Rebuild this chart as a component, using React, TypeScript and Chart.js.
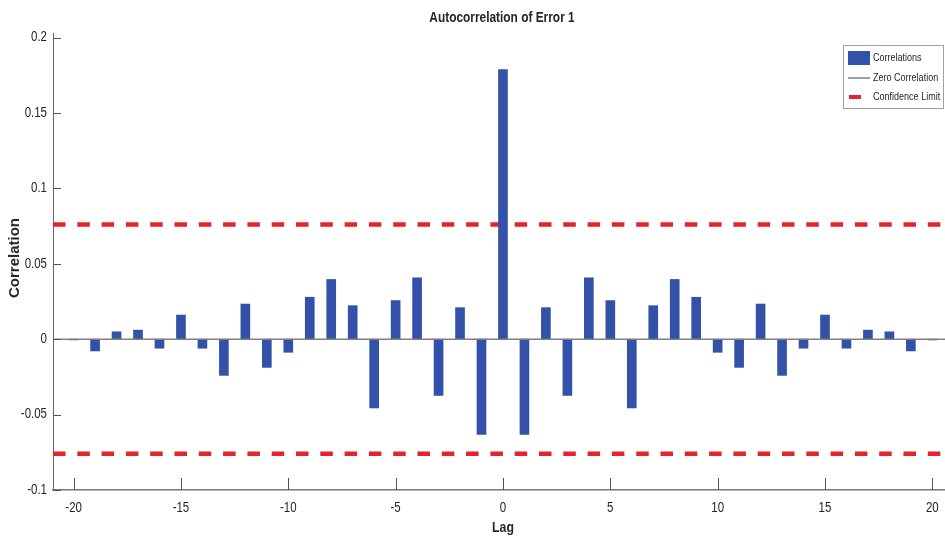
import React, { useEffect, useRef } from 'react';
import { Chart, registerables } from 'chart.js';

Chart.register(...registerables);

const lags = [
  -20, -19, -18, -17, -16, -15, -14, -13, -12, -11, -10, -9, -8, -7, -6, -5, -4, -3, -2, -1,
  0, 1, 2, 3, 4, 5, 6, 7, 8, 9, 10, 11, 12, 13, 14, 15, 16, 17, 18, 19, 20,
];
const correlations = [
  -0.0005, -0.0078, 0.0049, 0.006, -0.006, 0.016, -0.006, -0.024, 0.0233, -0.0187, -0.0087,
  0.0278, 0.0396, 0.0222, -0.0456, 0.0256, 0.0407, -0.0373, 0.0209, -0.0631,
  0.1788,
  -0.0631, 0.0209, -0.0373, 0.0407, 0.0256, -0.0456, 0.0222, 0.0396, 0.0278, -0.0087,
  -0.0187, 0.0233, -0.024, -0.006, 0.016, -0.006, 0.006, 0.0049, -0.0078, -0.0005,
];
const confidenceLimit = 0.076;
const xTicks = [-20, -15, -10, -5, 0, 5, 10, 15, 20];
const xTickLabels = ['-20', '-15', '-10', '-5', '0', '5', '10', '15', '20'];
const yTicks = [-0.1, -0.05, 0, 0.05, 0.1, 0.15, 0.2];
const yTickLabels = ['-0.1', '-0.05', '0', '0.05', '0.1', '0.15', '0.2'];
const xRange = [-20.96, 20.59];
const yRange = [-0.1, 0.203];
const legendLabels = ['Correlations', 'Zero Correlation', 'Confidence Limit'];
const titleText = 'Autocorrelation of Error 1';
const xTitle = 'Lag';
const yTitle = 'Correlation';

const FONT = "'Liberation Sans', Arial, sans-serif";
const NARROW_SCALE = 0.82;
const BLUE = '#3351A8';
const RED = '#E5232B';
const GRAY = '#808080';
const TEXT = '#262626';

function narrowText(
  ctx: CanvasRenderingContext2D,
  text: string,
  x: number,
  y: number,
  font: string,
  align: CanvasTextAlign,
) {
  ctx.save();
  ctx.font = font;
  ctx.textAlign = align;
  ctx.textBaseline = 'middle';
  ctx.translate(x, y);
  ctx.scale(NARROW_SCALE, 1);
  ctx.fillText(text, 0, 0);
  ctx.restore();
}

const decorPlugin = {
  id: 'decor',
  afterDraw(chart: any) {
    const { ctx, chartArea, scales } = chart;
    const xs = scales.x;
    const ys = scales.y;
    ctx.save();
    // inward ticks
    ctx.strokeStyle = '#555';
    ctx.lineWidth = 1;
    xTicks.forEach((v) => {
      const px = Math.round(xs.getPixelForValue(v)) + 0.5;
      ctx.beginPath();
      ctx.moveTo(px, chartArea.bottom);
      ctx.lineTo(px, chartArea.bottom - 12);
      ctx.stroke();
    });
    yTicks.forEach((v) => {
      const py = Math.round(ys.getPixelForValue(v)) + 0.5;
      ctx.beginPath();
      ctx.moveTo(chartArea.left, py);
      ctx.lineTo(chartArea.left + 8, py);
      ctx.stroke();
    });

    ctx.fillStyle = TEXT;
    // tick labels
    xTicks.forEach((v, i) => {
      narrowText(ctx, xTickLabels[i], xs.getPixelForValue(v), chartArea.bottom + 18, `14px ${FONT}`, 'center');
    });
    yTicks.forEach((v, i) => {
      narrowText(ctx, yTickLabels[i], chartArea.left - 6, ys.getPixelForValue(v), `14px ${FONT}`, 'right');
    });

    // title
    narrowText(ctx, titleText, 502, 18, `bold 14.5px ${FONT}`, 'center');
    // x title
    narrowText(ctx, xTitle, 503, 528, `bold 15px ${FONT}`, 'center');

    // y title
    ctx.save();
    ctx.translate(15, 258);
    ctx.rotate(-Math.PI / 2);
    ctx.font = `bold 15px ${FONT}`;
    ctx.textAlign = 'center';
    ctx.textBaseline = 'middle';
    ctx.fillText(yTitle, 0, 0);
    ctx.restore();

    // legend
    const lx = 843, ly = 45, lw = 100, lh = 63;
    ctx.fillStyle = '#fff';
    ctx.fillRect(lx, ly, lw, lh);
    ctx.strokeStyle = '#a0a0a0';
    ctx.lineWidth = 1;
    ctx.strokeRect(lx + 0.5, ly + 0.5, lw, lh);

    ctx.fillStyle = BLUE;
    ctx.fillRect(848, 51, 22, 14);

    ctx.strokeStyle = GRAY;
    ctx.lineWidth = 1.5;
    ctx.beginPath();
    ctx.moveTo(848, 78);
    ctx.lineTo(870, 78);
    ctx.stroke();

    ctx.fillStyle = RED;
    ctx.fillRect(849, 95, 12, 4);

    ctx.fillStyle = TEXT;
    narrowText(ctx, legendLabels[0], 873, 58, `11px ${FONT}`, 'left');
    narrowText(ctx, legendLabels[1], 873, 78, `11px ${FONT}`, 'left');
    narrowText(ctx, legendLabels[2], 873, 97, `11px ${FONT}`, 'left');
    ctx.restore();
  },
};

export default function App() {
  const canvasRef = useRef<HTMLCanvasElement | null>(null);

  useEffect(() => {
    const canvas = canvasRef.current;
    if (!canvas) return;
    const chart = new Chart(canvas, {
      type: 'bar',
      data: {
        datasets: [
          {
            type: 'line',
            label: 'Zero Correlation',
            data: xRange.map((x) => ({ x, y: 0 })),
            borderColor: GRAY,
            borderWidth: 1.5,
            pointRadius: 0,
            order: 0,
          } as any,
          {
            type: 'bar',
            label: 'Correlations',
            data: lags.map((l, i) => ({ x: l, y: correlations[i] })),
            backgroundColor: BLUE,
            barThickness: 9,
            order: 1,
          } as any,
          {
            type: 'line',
            label: 'Confidence Limit',
            data: xRange.map((x) => ({ x, y: confidenceLimit })),
            borderColor: RED,
            borderWidth: 4.5,
            borderDash: [12.5, 11.8],
            pointRadius: 0,
            order: 2,
          } as any,
          {
            type: 'line',
            label: 'Confidence Limit (lower)',
            data: xRange.map((x) => ({ x, y: -confidenceLimit })),
            borderColor: RED,
            borderWidth: 4.5,
            borderDash: [12.5, 11.8],
            pointRadius: 0,
            order: 2,
          } as any,
        ],
      },
      options: {
        responsive: false,
        animation: false,
        devicePixelRatio: 1,
        layout: { padding: { top: 33, left: 0, right: 0, bottom: 0 } },
        plugins: {
          legend: { display: false },
          tooltip: { enabled: false },
          title: { display: false },
        },
        scales: {
          x: {
            type: 'linear',
            offset: false,
            min: xRange[0],
            max: xRange[1],
            afterBuildTicks: (s: any) => {
              s.ticks = xTicks.map((v) => ({ value: v }));
            },
            afterFit: (s: any) => {
              s.height = 52;
            },
            grid: { display: false },
            border: { display: true, color: '#777', width: 1.5 },
            ticks: { display: false },
          },
          y: {
            type: 'linear',
            min: yRange[0],
            max: yRange[1],
            afterBuildTicks: (s: any) => {
              s.ticks = yTicks.map((v) => ({ value: v }));
            },
            afterFit: (s: any) => {
              s.width = 53;
            },
            grid: { display: false },
            border: { display: true, color: '#666', width: 1 },
            ticks: { display: false },
          },
        },
      },
      plugins: [decorPlugin],
    });
    return () => chart.destroy();
  }, []);

  return (
    <div style={{ position: 'absolute', left: 0, top: 0, width: 945, height: 542, background: '#fff' }}>
      <canvas ref={canvasRef} width={945} height={542} style={{ display: 'block' }} />
    </div>
  );
}
